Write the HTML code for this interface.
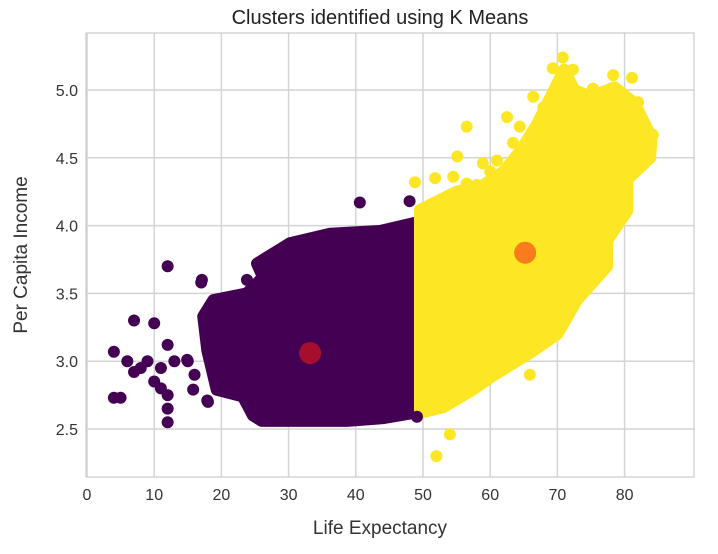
<!DOCTYPE html>
<html><head><meta charset="utf-8"><style>
body{margin:0;background:#fff;font-family:"Liberation Sans",sans-serif}
</style></head><body>
<svg id="chart" width="718" height="549" xmlns="http://www.w3.org/2000/svg">
<text x="380" y="24" text-anchor="middle" font-size="20" fill="#222">Clusters identified using K Means</text>
<text x="380" y="534" text-anchor="middle" font-size="19" fill="#333">Life Expectancy</text>
<text x="27" y="255" text-anchor="middle" font-size="19" fill="#333" transform="rotate(-90 27 255)">Per Capita Income</text>
<g id="grid"></g><g id="marks"></g><g id="ticks"></g>
<rect x="86" y="33" width="608" height="444" fill="none" stroke="#ccc" stroke-width="1.2"/>
</svg>
<script>
const xTicks=[0,10,20,30,40,50,60,70,80];
const yTicks=[2.5,3.0,3.5,4.0,4.5,5.0];
const purpleRegion=[[25.3,3.72],[30.2,3.87],[36.2,3.94],[43.6,3.96],[48.8,4.02],[48.8,2.62],[44,2.58],[38.7,2.56],[26,2.56],[24.7,2.6],[23.2,2.74],[19.3,2.79],[17.9,3.08],[17.3,3.33],[18.8,3.45],[23.8,3.5],[26.2,3.62]];
const yellowRegion=[[49.55,4.115],[55,4.25],[59,4.3],[62,4.4],[64.5,4.55],[67,4.75],[69.5,5.0],[71,5.15],[72.5,5.0],[75,4.95],[78.5,5.02],[81.5,4.9],[84,4.65],[83.8,4.5],[80.4,4.34],[80.4,4.11],[77.4,3.89],[77.4,3.7],[72.9,3.45],[70,3.2],[65.9,3.06],[60,2.88],[57.4,2.79],[53,2.66],[49.55,2.62]];
const purpleX=[4,4,5,7,6,7,8,10,10,11,12,12,12,12,12,13,11,9,15,17,16,18,19,30.5,31,40.6,48,17.1,23.8,15.8,17.9,14.9,49.1,22,24];
const purpleY=[3.07,2.73,2.73,3.3,3.0,2.92,2.95,3.28,2.85,2.8,2.65,2.55,2.75,3.7,3.12,3.0,2.95,3.0,3.0,3.58,2.9,2.7,3.1,3.86,3.6,4.17,4.18,3.6,3.6,2.79,2.71,3.01,2.59,3.4,3.45];
const yellowX=[52,54,65.9,48.8,51.8,54.5,55.1,56.5,56.5,58.9,61,61.5,62.5,63.4,64,64.4,66.4,67.9,69.3,70.8,72.3,73.4,75.3,76.3,78.3,79.3,81.1,82,84.2,60,66,70,68,58];
const yellowY=[2.3,2.46,2.9,4.32,4.35,4.36,4.51,4.73,4.31,4.46,4.48,4.34,4.8,4.61,4.34,4.73,4.95,4.87,5.16,5.24,5.15,4.91,5.01,4.93,5.11,4.98,5.09,4.91,4.67,4.4,4.55,4.75,4.65,4.3];
const centroidX=[33.2,65.2];
const centroidY=[3.06,3.8];
const centroidColors=["#a50f2d","#f97b1b"];
const NS="http://www.w3.org/2000/svg";
const xs=v=>87+v*6.72;
const ys=v=>90+(5-v)*135.6;
const grid=document.getElementById('grid'),marks=document.getElementById('marks'),ticks=document.getElementById('ticks');
function mk(t,a,p){const e=document.createElementNS(NS,t);for(const k in a)e.setAttribute(k,a[k]);p.appendChild(e);return e;}
xTicks.forEach(v=>{
 const l=mk('line',{x1:xs(v),x2:xs(v),y1:33,y2:477,stroke:'#d4d4d4','stroke-width':1.5},grid);
 
 
 const t=mk('text',{x:xs(v),y:500,'text-anchor':'middle','font-size':16,fill:'#333'},ticks);t.textContent=v;
 
 
});
yTicks.forEach(v=>{
 const l=mk('line',{x1:86,x2:694,y1:ys(v),y2:ys(v),stroke:'#d4d4d4','stroke-width':1.5},grid);
 
 
 const t=mk('text',{x:78,y:ys(v)+6,'text-anchor':'end','font-size':16,fill:'#333'},ticks);t.textContent=v.toFixed(1);
 
 
});
function region(pts,col,name){
 const p=mk('polygon',{points:pts.map(q=>xs(q[0])+','+ys(q[1])).join(' '),fill:col,stroke:col,'stroke-width':12,'stroke-linejoin':'round'},marks);
 
 
}
region(purpleRegion,'#440154','cluster-0-dense-region');
region(yellowRegion,'#fde725','cluster-1-dense-region');
purpleX.forEach((x,i)=>{const c=mk('circle',{cx:xs(x),cy:ys(purpleY[i]),r:6,fill:'#440154'},marks);
 
 });
yellowX.forEach((x,i)=>{const c=mk('circle',{cx:xs(x),cy:ys(yellowY[i]),r:6,fill:'#fde725'},marks);
 
 });
centroidX.forEach((x,i)=>{const c=mk('circle',{cx:xs(x),cy:ys(centroidY[i]),r:11,fill:centroidColors[i]},marks);
 
 });
</script>
</body></html>
